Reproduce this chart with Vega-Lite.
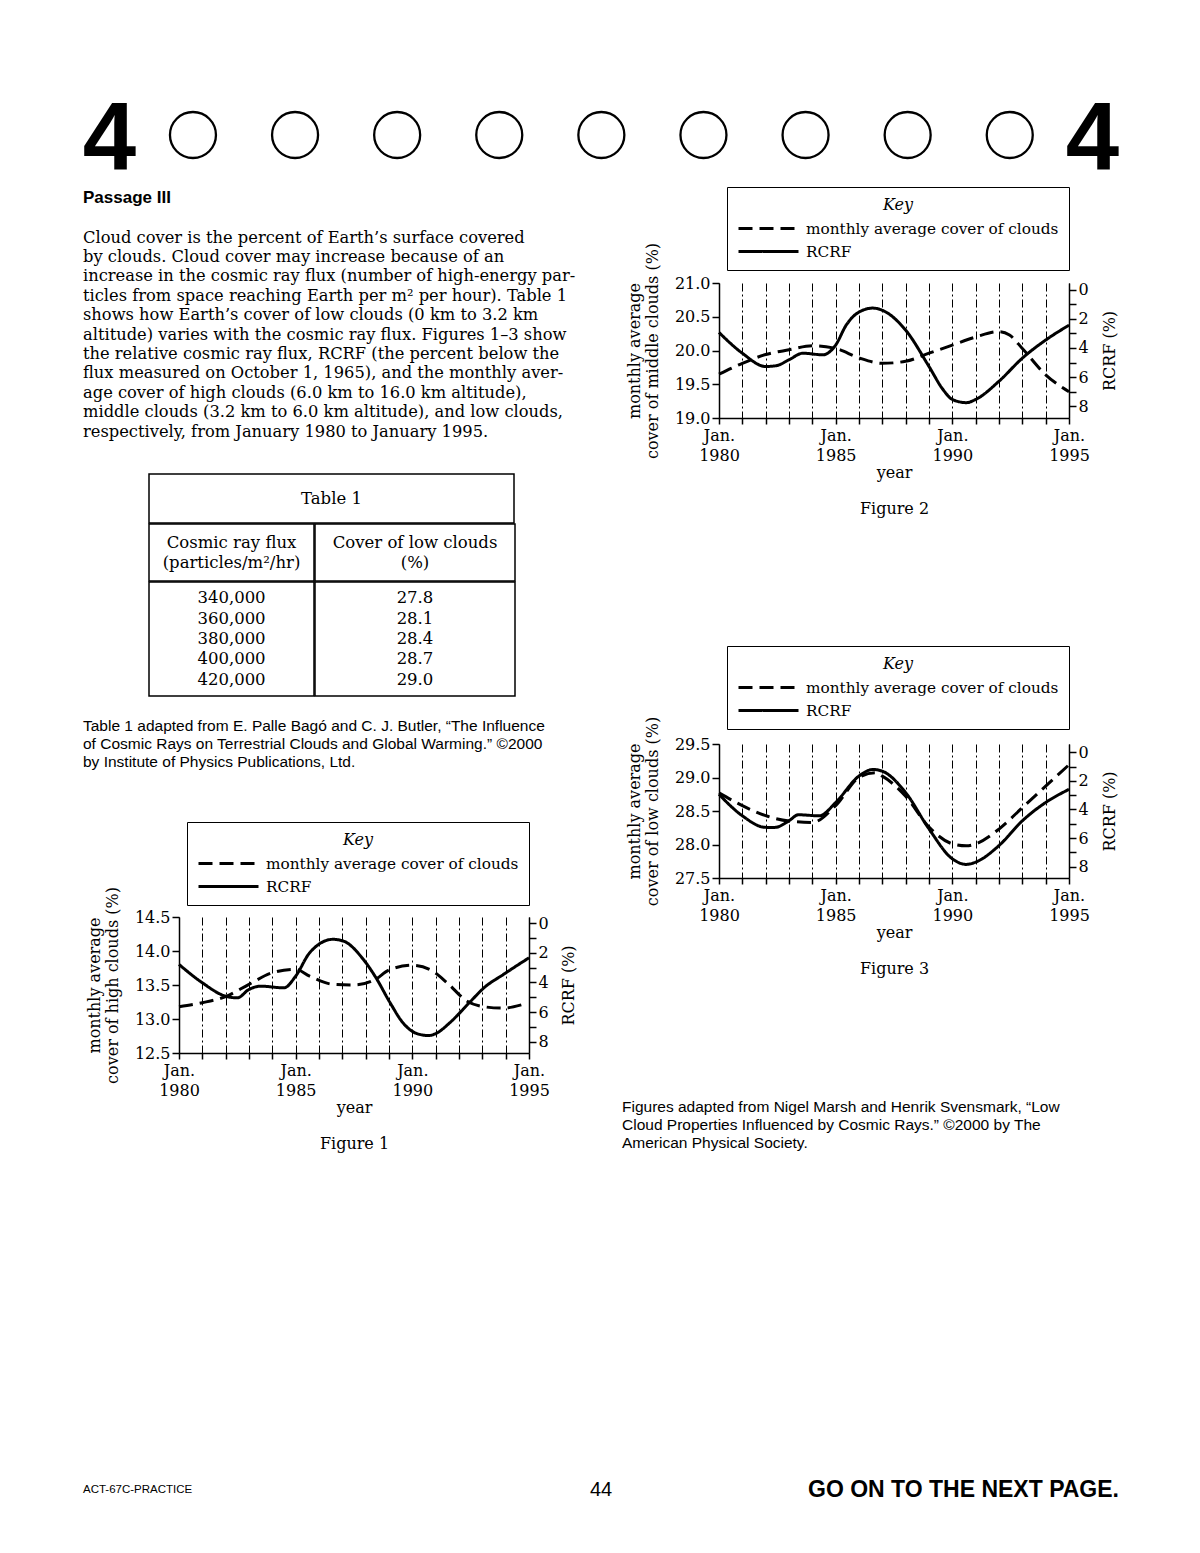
{
 "$schema": "https://vega.github.io/schema/vega-lite/v6.json",
 "background": "white",
 "padding": {"left": 82, "top": 85, "right": 0, "bottom": 0},
 "config": {
  "view": {"stroke": null},
  "axis": {"labelFont": "DejaVu Serif", "labelFontSize": 16, "labelColor": "black", "titleFont": "DejaVu Serif", "titleFontSize": 16, "titleFontWeight": "normal", "titleColor": "black", "domainColor": "black", "domainWidth": 1.5, "tickColor": "black", "tickWidth": 1.5, "tickSize": 7, "labelPadding": 2, "labelFlush": false, "labelOverlap": false, "grid": false},
  "legend": {"strokeColor": "black", "fillColor": "white", "padding": 10, "titleFont": "DejaVu Serif", "titleFontStyle": "italic", "titleFontWeight": "normal", "titleFontSize": 16, "titleColor": "black", "titleAnchor": "middle", "titlePadding": 4, "labelFont": "DejaVu Serif", "labelFontSize": 15.3, "labelColor": "black", "labelOffset": 46, "labelLimit": 400, "symbolSize": 400, "symbolStrokeWidth": 3, "symbolType": "M-1,0L5,0", "rowPadding": 3},
  "text": {"color": "black"}
 },
 "datasets": {
  "fig1": [
   {"s": "clouds", "t": 1980, "v": 13.18}, {"s": "clouds", "t": 1981, "v": 13.24}, {"s": "clouds", "t": 1982, "v": 13.33}, {"s": "clouds", "t": 1983, "v": 13.51}, {"s": "clouds", "t": 1984, "v": 13.68}, {"s": "clouds", "t": 1985, "v": 13.73}, {"s": "clouds", "t": 1985.6, "v": 13.63}, {"s": "clouds", "t": 1986.6, "v": 13.51}, {"s": "clouds", "t": 1987.5, "v": 13.5}, {"s": "clouds", "t": 1988.4, "v": 13.58}, {"s": "clouds", "t": 1989, "v": 13.72}, {"s": "clouds", "t": 1990, "v": 13.79}, {"s": "clouds", "t": 1990.8, "v": 13.72}, {"s": "clouds", "t": 1991.5, "v": 13.53}, {"s": "clouds", "t": 1992.35, "v": 13.26}, {"s": "clouds", "t": 1993.07, "v": 13.18}, {"s": "clouds", "t": 1993.9, "v": 13.16}, {"s": "clouds", "t": 1994.7, "v": 13.21},
   {"s": "RCRF", "t": 1980, "v": 2.78}, {"s": "RCRF", "t": 1981, "v": 4.02}, {"s": "RCRF", "t": 1982, "v": 4.93}, {"s": "RCRF", "t": 1982.5, "v": 5.04}, {"s": "RCRF", "t": 1983, "v": 4.47}, {"s": "RCRF", "t": 1983.5, "v": 4.25}, {"s": "RCRF", "t": 1984.5, "v": 4.36}, {"s": "RCRF", "t": 1985, "v": 3.57}, {"s": "RCRF", "t": 1985.6, "v": 1.99}, {"s": "RCRF", "t": 1986.6, "v": 1.08}, {"s": "RCRF", "t": 1987.05, "v": 1.2}, {"s": "RCRF", "t": 1987.9, "v": 2.44}, {"s": "RCRF", "t": 1988.45, "v": 3.7}, {"s": "RCRF", "t": 1989.05, "v": 5.38}, {"s": "RCRF", "t": 1989.6, "v": 6.73}, {"s": "RCRF", "t": 1990.2, "v": 7.46}, {"s": "RCRF", "t": 1990.7, "v": 7.59}, {"s": "RCRF", "t": 1991.06, "v": 7.41}, {"s": "RCRF", "t": 1991.6, "v": 6.73}, {"s": "RCRF", "t": 1992.5, "v": 5.27}, {"s": "RCRF", "t": 1993.07, "v": 4.36}, {"s": "RCRF", "t": 1993.9, "v": 3.46}, {"s": "RCRF", "t": 1995, "v": 2.33}
  ],
  "fig2": [
   {"s": "clouds", "t": 1980, "v": 19.65}, {"s": "clouds", "t": 1981, "v": 19.81}, {"s": "clouds", "t": 1982, "v": 19.94}, {"s": "clouds", "t": 1983, "v": 20.01}, {"s": "clouds", "t": 1984, "v": 20.07}, {"s": "clouds", "t": 1985, "v": 20.03}, {"s": "clouds", "t": 1986, "v": 19.89}, {"s": "clouds", "t": 1987, "v": 19.81}, {"s": "clouds", "t": 1988, "v": 19.84}, {"s": "clouds", "t": 1989, "v": 19.96}, {"s": "clouds", "t": 1990, "v": 20.08}, {"s": "clouds", "t": 1991, "v": 20.2}, {"s": "clouds", "t": 1992, "v": 20.28}, {"s": "clouds", "t": 1992.45, "v": 20.23}, {"s": "clouds", "t": 1993, "v": 20.03}, {"s": "clouds", "t": 1994, "v": 19.64}, {"s": "clouds", "t": 1995, "v": 19.39},
   {"s": "RCRF", "t": 1980, "v": 2.94}, {"s": "RCRF", "t": 1981, "v": 4.36}, {"s": "RCRF", "t": 1982, "v": 5.27}, {"s": "RCRF", "t": 1982.45, "v": 5.22}, {"s": "RCRF", "t": 1983, "v": 4.81}, {"s": "RCRF", "t": 1983.6, "v": 4.36}, {"s": "RCRF", "t": 1984.45, "v": 4.47}, {"s": "RCRF", "t": 1985, "v": 3.8}, {"s": "RCRF", "t": 1985.45, "v": 2.44}, {"s": "RCRF", "t": 1986, "v": 1.54}, {"s": "RCRF", "t": 1986.6, "v": 1.27}, {"s": "RCRF", "t": 1987, "v": 1.42}, {"s": "RCRF", "t": 1988, "v": 2.78}, {"s": "RCRF", "t": 1989, "v": 5.27}, {"s": "RCRF", "t": 1989.6, "v": 6.85}, {"s": "RCRF", "t": 1990, "v": 7.53}, {"s": "RCRF", "t": 1990.6, "v": 7.75}, {"s": "RCRF", "t": 1991, "v": 7.53}, {"s": "RCRF", "t": 1992, "v": 6.28}, {"s": "RCRF", "t": 1993, "v": 4.7}, {"s": "RCRF", "t": 1994, "v": 3.46}, {"s": "RCRF", "t": 1995, "v": 2.44}
  ],
  "fig3": [
   {"s": "clouds", "t": 1980, "v": 28.77}, {"s": "clouds", "t": 1981, "v": 28.58}, {"s": "clouds", "t": 1982, "v": 28.43}, {"s": "clouds", "t": 1983, "v": 28.35}, {"s": "clouds", "t": 1984, "v": 28.33}, {"s": "clouds", "t": 1985, "v": 28.58}, {"s": "clouds", "t": 1986, "v": 29.0}, {"s": "clouds", "t": 1986.7, "v": 29.07}, {"s": "clouds", "t": 1987, "v": 29.02}, {"s": "clouds", "t": 1988, "v": 28.72}, {"s": "clouds", "t": 1989, "v": 28.26}, {"s": "clouds", "t": 1990, "v": 28.01}, {"s": "clouds", "t": 1990.6, "v": 27.98}, {"s": "clouds", "t": 1991, "v": 28.01}, {"s": "clouds", "t": 1992, "v": 28.23}, {"s": "clouds", "t": 1993, "v": 28.55}, {"s": "clouds", "t": 1994, "v": 28.87}, {"s": "clouds", "t": 1995, "v": 29.19},
   {"s": "RCRF", "t": 1980, "v": 2.94}, {"s": "RCRF", "t": 1981, "v": 4.44}, {"s": "RCRF", "t": 1982, "v": 5.25}, {"s": "RCRF", "t": 1982.4, "v": 5.25}, {"s": "RCRF", "t": 1983, "v": 4.79}, {"s": "RCRF", "t": 1983.4, "v": 4.37}, {"s": "RCRF", "t": 1984.3, "v": 4.44}, {"s": "RCRF", "t": 1985, "v": 3.51}, {"s": "RCRF", "t": 1986, "v": 1.66}, {"s": "RCRF", "t": 1986.6, "v": 1.2}, {"s": "RCRF", "t": 1987, "v": 1.32}, {"s": "RCRF", "t": 1988, "v": 2.82}, {"s": "RCRF", "t": 1989, "v": 5.36}, {"s": "RCRF", "t": 1990, "v": 7.45}, {"s": "RCRF", "t": 1990.6, "v": 7.84}, {"s": "RCRF", "t": 1991, "v": 7.68}, {"s": "RCRF", "t": 1992, "v": 6.52}, {"s": "RCRF", "t": 1993, "v": 4.79}, {"s": "RCRF", "t": 1994, "v": 3.51}, {"s": "RCRF", "t": 1995, "v": 2.59}
  ]
 },
 "spacing": 0,
 "bounds": "flush",
 "resolve": {"scale": {"strokeDash": "independent"}, "legend": {"strokeDash": "independent"}},
 "vconcat": [
  {
   "width": 1036, "height": 100,
   "layer": [
    {"data": {"values": [{"side": "left", "d": "4"}, {"side": "right", "d": "4"}]},
     "mark": {"type": "text", "font": "Liberation Sans", "fontWeight": "bold", "fontSize": 96, "baseline": "middle", "dy": 6},
     "encoding": {"x": {"field": "side", "type": "nominal", "scale": {"type": "point", "padding": 0.027}, "axis": null}, "text": {"field": "d"}}},
    {"data": {"values": [{"k": 1}, {"k": 2}, {"k": 3}, {"k": 4}, {"k": 5}, {"k": 6}, {"k": 7}, {"k": 8}, {"k": 9}]},
     "mark": {"type": "point", "shape": "circle", "size": 2116, "filled": false, "strokeWidth": 2.3, "color": "black", "opacity": 1},
     "encoding": {"x": {"field": "k", "type": "quantitative", "scale": {"domain": [-0.077, 10.07], "nice": false, "zero": false}, "axis": null}}}
   ],
   "resolve": {"scale": {"x": "independent"}}
  },
  {
   "spacing": 323,
   "resolve": {"scale": {"strokeDash": "independent"}, "legend": {"strokeDash": "independent"}},
   "vconcat": [
    {
     "spacing": 44,
     "resolve": {"scale": {"strokeDash": "independent"}, "legend": {"strokeDash": "independent"}},
     "hconcat": [
      {
       "spacing": 0,
       "resolve": {"scale": {"strokeDash": "independent"}, "legend": {"strokeDash": "independent"}},
       "vconcat": [
        {"width": 1, "height": 4, "data": {"values": []}, "mark": "point"},
        {
         "width": 495, "height": 245,
         "title": {"text": "Passage III", "anchor": "start", "font": "Liberation Sans", "fontWeight": "bold", "fontSize": 17, "color": "black", "offset": 8, "baseline": "alphabetic"},
         "data": {"values": [
          {"l": 1, "t": "\u2003\u2003\u2003Cloud cover is the percent of Earth’s surface covered"},
          {"l": 2, "t": "by clouds. Cloud cover may increase because of an"},
          {"l": 3, "t": "increase in the cosmic ray flux (number of high-energy par-"},
          {"l": 4, "t": "ticles from space reaching Earth per m² per hour). Table 1"},
          {"l": 5, "t": "shows how Earth’s cover of low clouds (0 km to 3.2 km"},
          {"l": 6, "t": "altitude) varies with the cosmic ray flux. Figures 1–3 show"},
          {"l": 7, "t": "the relative cosmic ray flux, RCRF (the percent below the"},
          {"l": 8, "t": "flux measured on October 1, 1965), and the monthly aver-"},
          {"l": 9, "t": "age cover of high clouds (6.0 km to 16.0 km altitude),"},
          {"l": 10, "t": "middle clouds (3.2 km to 6.0 km altitude), and low clouds,"},
          {"l": 11, "t": "respectively, from January 1980 to January 1995."}
         ]},
         "mark": {"type": "text", "align": "left", "font": "DejaVu Serif", "fontSize": 16.3},
         "encoding": {
          "x": {"datum": 0, "type": "quantitative", "scale": {"domain": [0, 1]}, "axis": null},
          "y": {"field": "l", "type": "quantitative", "scale": {"domain": [0.5, 13.13], "reverse": true, "nice": false, "zero": false}, "axis": null},
          "text": {"field": "t"}
         }
        },
        {
         "spacing": 64,
         "hconcat": [
          {"width": 1, "height": 1, "data": {"values": []}, "mark": "point"},
          {
           "spacing": -4,
           "vconcat": [
            {"width": 365, "height": 49, "view": {"stroke": "black", "strokeWidth": 1.5},
             "data": {"values": [{"t": "Table 1"}]},
             "mark": {"type": "text", "font": "DejaVu Serif", "fontSize": 16.5},
             "encoding": {"text": {"field": "t"}}},
            {"spacing": -4, "hconcat": [
             {"width": 165, "height": 57, "view": {"stroke": "black", "strokeWidth": 1.5},
              "data": {"values": [{"l": 1, "t": "Cosmic ray flux"}, {"l": 2, "t": "(particles/m²/hr)"}]},
              "mark": {"type": "text", "font": "DejaVu Serif", "fontSize": 16.5},
              "encoding": {"y": {"field": "l", "type": "ordinal", "scale": {"type": "point", "padding": 0.925}, "axis": null}, "text": {"field": "t"}}},
             {"width": 200, "height": 57, "view": {"stroke": "black", "strokeWidth": 1.5},
              "data": {"values": [{"l": 1, "t": "Cover of low clouds"}, {"l": 2, "t": "(%)"}]},
              "mark": {"type": "text", "font": "DejaVu Serif", "fontSize": 16.5},
              "encoding": {"y": {"field": "l", "type": "ordinal", "scale": {"type": "point", "padding": 0.925}, "axis": null}, "text": {"field": "t"}}}
            ]},
            {"spacing": -4, "hconcat": [
             {"width": 165, "height": 114, "view": {"stroke": "black", "strokeWidth": 1.5},
              "data": {"values": [{"l": 1, "t": "340,000"}, {"l": 2, "t": "360,000"}, {"l": 3, "t": "380,000"}, {"l": 4, "t": "400,000"}, {"l": 5, "t": "420,000"}]},
              "mark": {"type": "text", "font": "DejaVu Serif", "fontSize": 16.5},
              "encoding": {"y": {"field": "l", "type": "ordinal", "scale": {"type": "point", "padding": 0.8}, "axis": null}, "text": {"field": "t"}}},
             {"width": 200, "height": 114, "view": {"stroke": "black", "strokeWidth": 1.5},
              "data": {"values": [{"l": 1, "t": "27.8"}, {"l": 2, "t": "28.1"}, {"l": 3, "t": "28.4"}, {"l": 4, "t": "28.7"}, {"l": 5, "t": "29.0"}]},
              "mark": {"type": "text", "font": "DejaVu Serif", "fontSize": 16.5},
              "encoding": {"y": {"field": "l", "type": "ordinal", "scale": {"type": "point", "padding": 0.8}, "axis": null}, "text": {"field": "t"}}}
            ]}
           ]
          }
         ]
        },
        {
         "width": 495, "height": 124,
         "data": {"values": [
          {"l": 1, "t": "Table 1 adapted from E. Palle Bagó and C. J. Butler, “The Influence"},
          {"l": 2, "t": "of Cosmic Rays on Terrestrial Clouds and Global Warming.” ©2000"},
          {"l": 3, "t": "by Institute of Physics Publications, Ltd."}
         ]},
         "mark": {"type": "text", "align": "left", "font": "Liberation Sans", "fontSize": 15.5},
         "encoding": {
          "x": {"datum": 0, "type": "quantitative", "scale": {"domain": [0, 1]}, "axis": null},
          "y": {"field": "l", "type": "quantitative", "scale": {"domain": [-0.61, 6.28], "reverse": true, "nice": false, "zero": false}, "axis": null},
          "text": {"field": "t"}
         }
        },
        {
         "spacing": 2,
         "resolve": {"scale": {"strokeDash": "independent"}, "legend": {"strokeDash": "independent"}},
         "hconcat": [
          {"width": 1, "height": 1, "data": {"values": []}, "mark": "point"},
          {
           "width": 350, "height": 136,
           "data": {"name": "fig1"},
           "encoding": {
            "x": {"field": "t", "type": "quantitative", "scale": {"domain": [1980, 1995], "nice": false, "zero": false},
                  "axis": {"values": [1980, 1981, 1982, 1983, 1984, 1985, 1986, 1987, 1988, 1989, 1990, 1991, 1992, 1993, 1994, 1995], "grid": true, "gridDash": [8, 3, 2, 3], "gridColor": "black", "gridWidth": 1, "gridOpacity": 1, "tickSize": 6, "labelPadding": 3, "labelLineHeight": 20, "labelExpr": "datum.value % 5 === 0 ? ['Jan.', '' + datum.value] : ''", "title": ["year", "Figure 1"], "titleLineHeight": 36, "titlePadding": 1}},
            "strokeDash": {"field": "s", "type": "nominal", "scale": {"domain": ["clouds", "RCRF"], "range": [[14, 7], [1, 0]]},
                  "legend": {"title": "Key", "orient": "none", "legendX": 8, "legendY": -95, "symbolType": "M-1,0L5,0", "labelExpr": "datum.label === 'clouds' ? 'monthly average cover of clouds' : datum.label"}}
           },
           "layer": [
            {"transform": [{"filter": "datum.s === 'clouds'"}],
             "mark": {"type": "line", "interpolate": "monotone", "strokeWidth": 3, "color": "black"},
             "encoding": {"y": {"field": "v", "type": "quantitative", "scale": {"domain": [12.5, 14.5], "nice": false, "zero": false},
               "axis": {"orient": "left", "values": [12.5, 13, 13.5, 14, 14.5], "format": ".1f", "title": ["monthly average", "cover of high clouds (%)"], "titleLineHeight": 18, "titlePadding": 14}}}},
            {"transform": [{"filter": "datum.s === 'RCRF'"}],
             "mark": {"type": "line", "interpolate": "monotone", "strokeWidth": 3, "color": "black"},
             "encoding": {"y": {"field": "v", "type": "quantitative", "scale": {"domain": [-0.43, 8.77], "reverse": true, "nice": false, "zero": false},
               "axis": {"orient": "right", "values": [0, 1, 2, 3, 4, 5, 6, 7, 8], "labelExpr": "datum.value % 2 === 0 ? datum.label : ''", "title": "RCRF (%)", "titleAngle": 270, "titleBaseline": "top", "titlePadding": 12}}}}
           ],
           "resolve": {"scale": {"y": "independent"}}
          }
         ]
        }
       ]
      },
      {
       "spacing": 0,
       "resolve": {"scale": {"strokeDash": "independent"}, "legend": {"strokeDash": "independent"}},
       "vconcat": [
        {"width": 1, "height": 1, "data": {"values": []}, "mark": "point"},
        {
         "spacing": 3,
         "resolve": {"scale": {"strokeDash": "independent"}, "legend": {"strokeDash": "independent"}},
         "hconcat": [
          {"width": 1, "height": 1, "data": {"values": []}, "mark": "point"},
          {
           "width": 350, "height": 135,
           "data": {"name": "fig2"},
           "encoding": {
            "x": {"field": "t", "type": "quantitative", "scale": {"domain": [1980, 1995], "nice": false, "zero": false},
                  "axis": {"values": [1980, 1981, 1982, 1983, 1984, 1985, 1986, 1987, 1988, 1989, 1990, 1991, 1992, 1993, 1994, 1995], "grid": true, "gridDash": [8, 3, 2, 3], "gridColor": "black", "gridWidth": 1, "gridOpacity": 1, "tickSize": 6, "labelPadding": 3, "labelLineHeight": 20, "labelExpr": "datum.value % 5 === 0 ? ['Jan.', '' + datum.value] : ''", "title": ["year", "Figure 2"], "titleLineHeight": 36, "titlePadding": 1}},
            "strokeDash": {"field": "s", "type": "nominal", "scale": {"domain": ["clouds", "RCRF"], "range": [[14, 7], [1, 0]]},
                  "legend": {"title": "Key", "orient": "none", "legendX": 8, "legendY": -96, "symbolType": "M-1,0L5,0", "labelExpr": "datum.label === 'clouds' ? 'monthly average cover of clouds' : datum.label"}}
           },
           "layer": [
            {"transform": [{"filter": "datum.s === 'clouds'"}],
             "mark": {"type": "line", "interpolate": "monotone", "strokeWidth": 3, "color": "black"},
             "encoding": {"y": {"field": "v", "type": "quantitative", "scale": {"domain": [19, 21], "nice": false, "zero": false},
               "axis": {"orient": "left", "values": [19, 19.5, 20, 20.5, 21], "format": ".1f", "title": ["monthly average", "cover of middle clouds (%)"], "titleLineHeight": 18, "titlePadding": 14}}}},
            {"transform": [{"filter": "datum.s === 'RCRF'"}],
             "mark": {"type": "line", "interpolate": "monotone", "strokeWidth": 3, "color": "black"},
             "encoding": {"y": {"field": "v", "type": "quantitative", "scale": {"domain": [-0.45, 8.8], "reverse": true, "nice": false, "zero": false},
               "axis": {"orient": "right", "values": [0, 1, 2, 3, 4, 5, 6, 7, 8], "labelExpr": "datum.value % 2 === 0 ? datum.label : ''", "title": "RCRF (%)", "titleAngle": 270, "titleBaseline": "top", "titlePadding": 13}}}}
           ],
           "resolve": {"scale": {"y": "independent"}}
          }
         ]
        },
        {"width": 1, "height": 129, "data": {"values": []}, "mark": "point"},
        {
         "spacing": 3,
         "resolve": {"scale": {"strokeDash": "independent"}, "legend": {"strokeDash": "independent"}},
         "hconcat": [
          {"width": 1, "height": 1, "data": {"values": []}, "mark": "point"},
          {
           "width": 350, "height": 134,
           "data": {"name": "fig3"},
           "encoding": {
            "x": {"field": "t", "type": "quantitative", "scale": {"domain": [1980, 1995], "nice": false, "zero": false},
                  "axis": {"values": [1980, 1981, 1982, 1983, 1984, 1985, 1986, 1987, 1988, 1989, 1990, 1991, 1992, 1993, 1994, 1995], "grid": true, "gridDash": [8, 3, 2, 3], "gridColor": "black", "gridWidth": 1, "gridOpacity": 1, "tickSize": 6, "labelPadding": 3, "labelLineHeight": 20, "labelExpr": "datum.value % 5 === 0 ? ['Jan.', '' + datum.value] : ''", "title": ["year", "Figure 3"], "titleLineHeight": 36, "titlePadding": 1}},
            "strokeDash": {"field": "s", "type": "nominal", "scale": {"domain": ["clouds", "RCRF"], "range": [[14, 7], [1, 0]]},
                  "legend": {"title": "Key", "orient": "none", "legendX": 8, "legendY": -98, "symbolType": "M-1,0L5,0", "labelExpr": "datum.label === 'clouds' ? 'monthly average cover of clouds' : datum.label"}}
           },
           "layer": [
            {"transform": [{"filter": "datum.s === 'clouds'"}],
             "mark": {"type": "line", "interpolate": "monotone", "strokeWidth": 3, "color": "black"},
             "encoding": {"y": {"field": "v", "type": "quantitative", "scale": {"domain": [27.5, 29.5], "nice": false, "zero": false},
               "axis": {"orient": "left", "values": [27.5, 28, 28.5, 29, 29.5], "format": ".1f", "title": ["monthly average", "cover of low clouds (%)"], "titleLineHeight": 18, "titlePadding": 14}}}},
            {"transform": [{"filter": "datum.s === 'RCRF'"}],
             "mark": {"type": "line", "interpolate": "monotone", "strokeWidth": 3, "color": "black"},
             "encoding": {"y": {"field": "v", "type": "quantitative", "scale": {"domain": [-0.58, 8.79], "reverse": true, "nice": false, "zero": false},
               "axis": {"orient": "right", "values": [0, 1, 2, 3, 4, 5, 6, 7, 8], "labelExpr": "datum.value % 2 === 0 ? datum.label : ''", "title": "RCRF (%)", "titleAngle": 270, "titleBaseline": "top", "titlePadding": 13}}}}
           ],
           "resolve": {"scale": {"y": "independent"}}
          }
         ]
        },
        {"width": 1, "height": 122, "data": {"values": []}, "mark": "point"},
        {
         "width": 495, "height": 54,
         "data": {"values": [
          {"l": 1, "t": "Figures adapted from Nigel Marsh and Henrik Svensmark, “Low"},
          {"l": 2, "t": "Cloud Properties Influenced by Cosmic Rays.” ©2000 by The"},
          {"l": 3, "t": "American Physical Society."}
         ]},
         "mark": {"type": "text", "align": "left", "font": "Liberation Sans", "fontSize": 15.5},
         "encoding": {
          "x": {"datum": 0, "type": "quantitative", "scale": {"domain": [0, 1]}, "axis": null},
          "y": {"field": "l", "type": "quantitative", "scale": {"domain": [0.5, 3.5], "reverse": true, "nice": false, "zero": false}, "axis": null},
          "text": {"field": "t"}
         }
        }
       ]
      }
     ]
    },
    {
     "width": 1036, "height": 30,
     "data": {"values": [{"pos": "left", "t": "ACT-67C-PRACTICE"}, {"pos": "center", "t": "44"}, {"pos": "right", "t": "GO ON TO THE NEXT PAGE."}]},
     "encoding": {
      "x": {"field": "pos", "type": "nominal", "scale": {"type": "point", "domain": ["left", "center", "right"], "padding": 0}, "axis": null},
      "text": {"field": "t"}
     },
     "layer": [
      {"transform": [{"filter": "datum.pos === 'left'"}], "mark": {"type": "text", "align": "left", "font": "Liberation Sans", "fontSize": 11.5}},
      {"transform": [{"filter": "datum.pos === 'center'"}], "mark": {"type": "text", "align": "center", "font": "Liberation Sans", "fontSize": 20}},
      {"transform": [{"filter": "datum.pos === 'right'"}], "mark": {"type": "text", "align": "right", "font": "Liberation Sans", "fontWeight": "bold", "fontSize": 23}}
     ]
    }
   ]
  }
 ]
}
